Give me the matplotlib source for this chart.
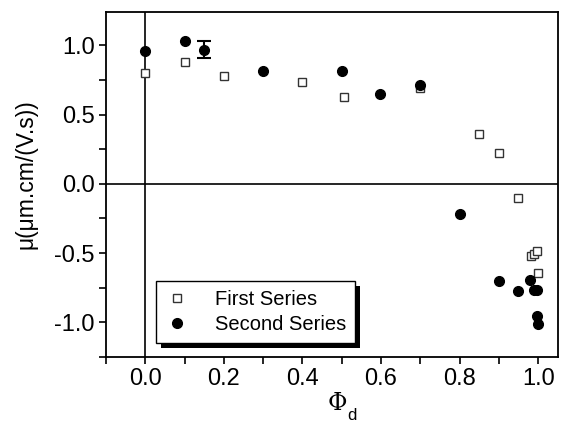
import matplotlib
matplotlib.use("Agg")
import matplotlib.pyplot as plt
from matplotlib.ticker import MultipleLocator, FormatStrFormatter
from matplotlib.patches import Rectangle

plt.rcParams['font.family'] = ['Liberation Sans', 'DejaVu Sans']

first_x = [0.0, 0.1, 0.2, 0.4, 0.507, 0.7, 0.85, 0.90, 0.95, 0.981, 0.99, 0.997, 1.0]
first_y = [0.803, 0.878, 0.781, 0.736, 0.625, 0.69, 0.358, 0.219, -0.101, -0.524, -0.505, -0.483, -0.647]

second_x = [0.0, 0.1, 0.15, 0.3, 0.5, 0.598, 0.7, 0.8, 0.9, 0.95, 0.98, 0.989, 0.997, 0.998, 1.0]
second_y = [0.955, 1.034, 0.967, 0.815, 0.813, 0.649, 0.714, -0.219, -0.70, -0.772, -0.693, -0.767, -0.767, -0.957, -1.012]

err_x = [0.15]
err_y = [0.967]
err_size = [0.06]

W, H = 568, 425
fig = plt.figure(figsize=(W / 100, H / 100), dpi=100)
ax = fig.add_axes([0.1866, 0.16, 0.7954, 0.8118])

ax.axhline(0, color='black', lw=1.2, zorder=1)
ax.axvline(0, color='black', lw=1.2, zorder=1)

ax.plot(first_x, first_y, 's', mfc='white', mec='#333333', mew=1.0, ms=5.5,
        label='First Series', zorder=3)
ax.plot(second_x, second_y, 'o', color='black', ms=7, label='Second Series', zorder=3)
ax.errorbar(err_x, err_y, yerr=err_size, fmt='none', ecolor='black', elinewidth=1.5,
            capsize=5, capthick=1.5, zorder=4)

ax.set_xlim(-0.1, 1.05)
ax.set_ylim(-1.25, 1.24)
ax.xaxis.set_major_locator(MultipleLocator(0.2))
ax.xaxis.set_minor_locator(MultipleLocator(0.1))
ax.yaxis.set_major_locator(MultipleLocator(0.5))
ax.yaxis.set_minor_locator(MultipleLocator(0.25))
ax.xaxis.set_major_formatter(FormatStrFormatter('%.1f'))
ax.yaxis.set_major_formatter(FormatStrFormatter('%.1f'))
ax.tick_params(axis='both', which='both', direction='out', width=1.2, labelsize=17)
ax.tick_params(which='major', length=5, pad=3)
ax.tick_params(which='minor', length=5)
for s in ax.spines.values():
    s.set_linewidth(1.3)

ax.set_ylabel('μ(μm.cm/(V.s))', fontsize=16.5)
ax.yaxis.set_label_coords(-0.152, 0.53)

# x label: Φ with a lowered subscript d
fig.text(337.5 / W, 1 - 404 / H, 'Φ', fontsize=17, family='DejaVu Serif',
         ha='center', va='center')
fig.text(351.5 / W, 1 - 416 / H, 'd', fontsize=12, family='Liberation Sans',
         ha='center', va='center')

leg = ax.legend(loc='lower left', bbox_to_anchor=(0.11, 0.04), fontsize=14.5,
                frameon=True, fancybox=False, shadow=False, borderpad=0.45,
                handletextpad=1.3, labelspacing=0.3, handlelength=1.2,
                framealpha=1.0, borderaxespad=0)
leg.get_frame().set_edgecolor('black')
leg.get_frame().set_linewidth(1.0)
leg.get_frame().set_facecolor('white')
leg.set_zorder(10)

fig.canvas.draw()
bb = leg.get_window_extent().transformed(fig.transFigure.inverted())
shadow = Rectangle((bb.x0 + 5 / W, bb.y0 - 5 / H), bb.width, bb.height,
                   transform=fig.transFigure, facecolor='black', edgecolor='none', zorder=9)
ax.add_artist(shadow)
shadow.set_clip_on(False)

fig.savefig('out.png', dpi=100)
